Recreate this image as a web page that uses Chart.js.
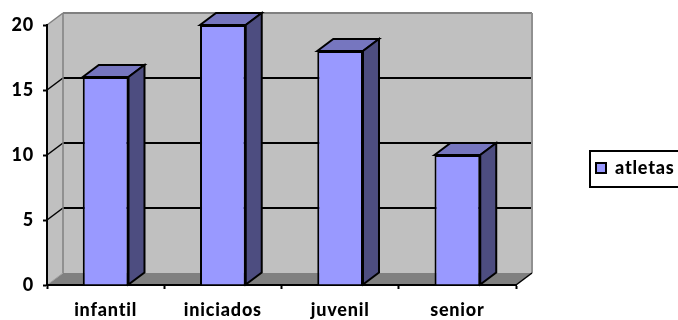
<!DOCTYPE html>
<html>
<head>
<meta charset="utf-8">
<style>
  html, body { margin: 0; padding: 0; background: #fff; overflow: hidden; }
  #wrap { width: 678px; height: 320px; }
</style>
<script src="https://cdn.jsdelivr.net/npm/chart.js@4"></script>
</head>
<body>
<div id="wrap"><canvas id="chart" width="678" height="320"></canvas></div>
<script>
const categories = ["infantil", "iniciados", "juvenil", "senior"];
const seriesName = "atletas";
const atletas = [16, 20, 18, 10];

const depthX = 16;
const depthY = -12;

function poly(ctx, pts, fill, stroke, width) {
  ctx.beginPath();
  pts.forEach((p, i) => (i ? ctx.lineTo(p[0], p[1]) : ctx.moveTo(p[0], p[1])));
  ctx.closePath();
  if (fill) {
    ctx.fillStyle = fill;
    ctx.fill();
  }
  if (stroke) {
    ctx.strokeStyle = stroke;
    ctx.lineWidth = width;
    ctx.stroke();
  }
}

function line(ctx, x1, y1, x2, y2, color, width) {
  ctx.beginPath();
  ctx.moveTo(x1, y1);
  ctx.lineTo(x2, y2);
  ctx.strokeStyle = color;
  ctx.lineWidth = width;
  ctx.stroke();
}

// back wall, side wall and floor behind the bars
const walls = {
  id: "walls",
  beforeDraw(chart) {
    const { ctx, chartArea: a, scales } = chart;
    // wider text run for every label
    ctx.letterSpacing = "0.8px";
    const backL = a.left + depthX;
    const backR = a.right + depthX;
    const backT = a.top + depthY;
    const backB = a.bottom + depthY;
    ctx.save();
    poly(ctx, [[a.left, a.top], [backL, backT], [backL, backB], [a.left, a.bottom]], "#c0c0c0");
    poly(ctx, [[backL, backT], [backR, backT], [backR, backB], [backL, backB]], "#c0c0c0");
    poly(ctx, [[a.left, a.bottom], [backL, backB], [backR, backB], [a.right, a.bottom]], "#808080");

    scales.y.ticks.forEach((t) => {
      if (t.value === 0 || t.value === scales.y.max) return;
      const y = Math.round(scales.y.getPixelForValue(t.value));
      line(ctx, a.left, y, backL, y + depthY, "#000", 1.5);
      line(ctx, backL, y + depthY, backR, y + depthY, "#000", 2);
    });

    line(ctx, a.left, a.top, backL, backT, "#808080", 1.5);
    line(ctx, backL, backT, backR, backT, "#808080", 2);
    line(ctx, backL, backT, backL, backB, "#808080", 1.5);
    line(ctx, backR, backT, backR, backB, "#909090", 2);
    line(ctx, a.left, a.bottom, backL, backB, "#a0a0a0", 1);
    line(ctx, a.right, a.bottom, backR, backB, "#000", 1.5);
    ctx.restore();
  },
  // top and side faces of each bar
  afterDatasetsDraw(chart) {
    const { ctx } = chart;
    const meta = chart.getDatasetMeta(0);
    ctx.save();
    ctx.lineJoin = "miter";
    meta.data.forEach((bar) => {
      const { x, y, base, width } = bar.getProps(["x", "y", "base", "width"], true);
      const l = x - width / 2;
      const r = x + width / 2;
      poly(ctx, [[l, y], [l + depthX, y + depthY], [r + depthX, y + depthY], [r, y]], "#7676bf", "#000", 2);
      poly(ctx, [[r, y], [r + depthX, y + depthY], [r + depthX, base + depthY], [r, base]], "#4d4d80", "#000", 2);
    });
    ctx.restore();
  },
};

// moves the legend to the right of the plot and draws its frame
const legendFrame = {
  id: "legendFrame",
  afterLayout(chart) {
    const lg = chart.legend;
    lg.left = 590;
    lg.top = 153;
    lg.width = 100;
    lg.height = 34;
    lg.right = lg.left + lg.width;
    lg.bottom = lg.top + lg.height;
  },
  afterDraw(chart) {
    const lg = chart.legend;
    const { ctx } = chart;
    ctx.save();
    ctx.strokeStyle = "#000";
    ctx.lineWidth = 2;
    ctx.strokeRect(lg.left, lg.top - 2, lg.width, lg.height + 2);
    ctx.restore();
  },
};

const font = { family: "Lato", size: 18, weight: "900" };

new Chart(document.getElementById("chart"), {
  type: "bar",
  data: {
    labels: categories,
    datasets: [
      {
        label: seriesName,
        data: atletas,
        backgroundColor: "#9999ff",
        borderColor: "#000",
        borderWidth: 2,
        barPercentage: 0.39,
        categoryPercentage: 1,
        clip: false,
      },
    ],
  },
  plugins: [walls, legendFrame],
  options: {
    responsive: false,
    animation: false,
    layout: { padding: { top: 25, right: 162, left: 0, bottom: 0 } },
    scales: {
      x: {
        afterFit: (s) => { s.height = 35; },
        grid: { display: true, drawOnChartArea: false, offset: true, color: "#000", tickLength: 4, tickWidth: 2 },
        border: { color: "#000", width: 2 },
        ticks: { color: "#000", font, padding: 10, maxRotation: 0, autoSkip: false },
      },
      y: {
        min: 0,
        max: 20,
        afterFit: (s) => { s.width = 47; },
        grid: { display: true, drawOnChartArea: false, color: "#000", tickLength: 4, tickWidth: 2 },
        border: { color: "#000", width: 2 },
        ticks: { stepSize: 5, color: "#000", font, padding: 9 },
      },
    },
    plugins: {
      title: { display: false },
      tooltip: { enabled: false },
      legend: {
        display: true,
        position: "chartArea",
        align: "start",
        labels: { boxWidth: 10, boxHeight: 10, padding: 6, color: "#000", font },
      },
    },
  },
});
</script>
</body>
</html>
